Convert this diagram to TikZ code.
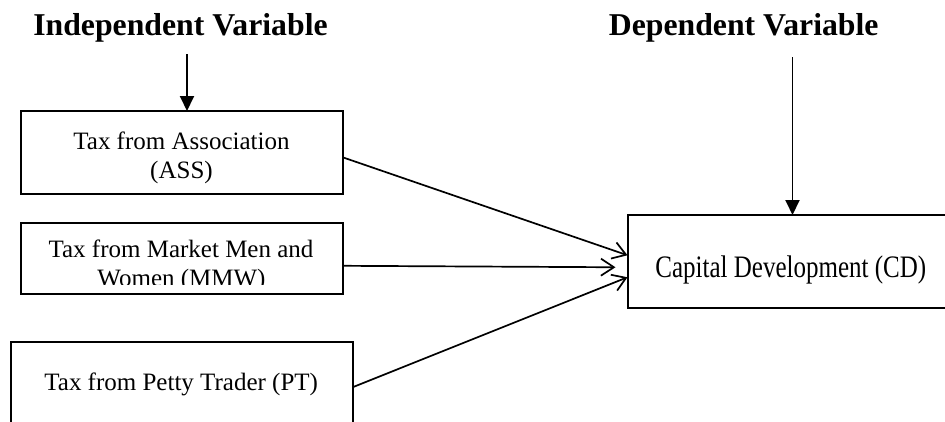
\documentclass[tikz,border=0pt]{standalone}
\usepackage{fontspec}
\usepackage{graphicx}
\setmainfont{Liberation Serif}
\usetikzlibrary{arrows.meta}
\begin{document}
\begin{tikzpicture}[x=1pt,y=-1pt,
  box/.style={draw, line width=2pt, inner sep=0pt, outer sep=0pt},
  body/.style={font=\fontsize{25}{29}\selectfont, inner sep=0pt, anchor=base},
  title/.style={font=\fontsize{31.75}{36}\selectfont\bfseries, inner sep=0pt, anchor=base},
  link/.style={line width=1.7pt, -{Straight Barb[length=13pt,width=17pt,line width=1.7pt]}},
  down/.style={line width=1.9pt, -{Triangle[length=15pt,width=14pt]}}]
\useasboundingbox (0,0) rectangle (945,421);
\clip (0,0) rectangle (945,421);
% titles
\node[title] (indep) at (180.5,35) {Independent Variable};
\node[title] (dep) at (743.7,35) {Dependent Variable};
% boxes
\node[box, minimum width=322.6pt, minimum height=83pt] (ass) at (182,152.5) {};
\node[body] (assA) at (181.5,149.3) {Tax from Association};
\node[body] (assB) at (181.5,178.3) {(ASS)};
\node[box, minimum width=322.6pt, minimum height=71pt] (mmw) at (182,258.8) {};
\begin{scope}
  \clip (21,224) rectangle (343,284);
  \node[body] (mmwA) at (181,257.7) {Tax from Market Men and};
  \node[body] (mmwB) at (181.5,286.7) {Women (MMW)};
\end{scope}
\node[box, minimum width=342pt, minimum height=83pt] (pt) at (181.7,383.2) {};
\node[body] (ptT) at (181.2,390.5) {Tax from Petty Trader (PT)};
\node[box, minimum width=330pt, minimum height=92.5pt] (cd) at (792.5,261.25) {};
\node[body] (cdT) at (790.8,277) {\scalebox{1}[1.25]{Capital Development (CD)}};
% vertical arrows
\coordinate (ia) at (187,54);
\coordinate (da) at (792.5,57);
\draw[down] (ia) -- ([xshift=5pt]ass.north);
\draw[down] (da) -- (cd.north);
% connectors
\draw[link] ([yshift=-5pt]ass.east) -- ([yshift=6pt]cd.west);
\draw[link] ([yshift=-7pt]mmw.east) -- ([xshift=-12pt,yshift=-6pt]cd.west);
\draw[link] ([yshift=-4pt]pt.east) -- ([yshift=-16pt]cd.west);
\end{tikzpicture}
\end{document}
